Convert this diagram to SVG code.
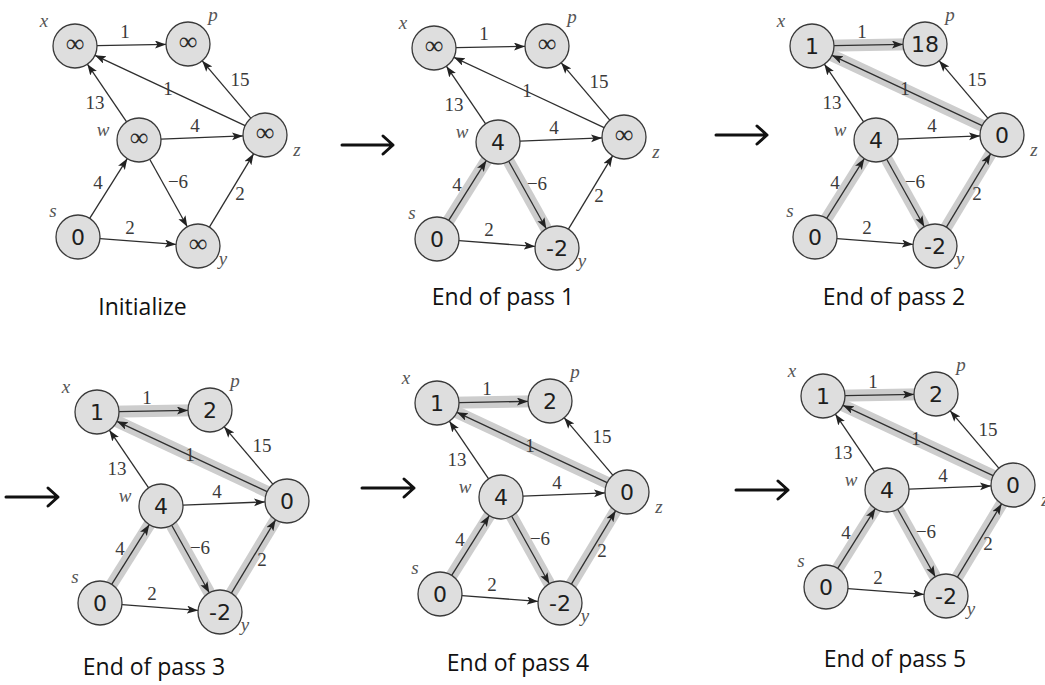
<svg xmlns="http://www.w3.org/2000/svg" xmlns:xlink="http://www.w3.org/1999/xlink" width="1045" height="685" viewBox="0 0 1045 685">
  <style>
    .node circle { fill: #dedede; stroke: #3a3a3a; stroke-width: 1.3; }
    .val { font-family: "DejaVu Sans", "Liberation Sans", sans-serif; font-size: 22px; fill: #1e1e1e; text-anchor: middle; }
    .inf { font-family: "Liberation Serif", "DejaVu Serif", serif; font-size: 26px; fill: #2a2a2a; text-anchor: middle; }
    .lbl { font-family: "Liberation Serif", "DejaVu Serif", serif; font-style: italic; font-size: 19px; fill: #555; text-anchor: middle; }
    .edge { stroke: #2e2e2e; stroke-width: 1.3; fill: none; marker-end: url(#head); }
    .w { font-family: "Liberation Serif", "DejaVu Serif", serif; font-size: 19px; fill: #3a3a3a; text-anchor: middle; }
    .band { stroke: #cdcdcd; stroke-width: 12; fill: none; }
    .cap { font-family: "Open Sans", "Liberation Sans", sans-serif; font-size: 23px; fill: #111; text-anchor: middle; }
    .step { stroke: #111; stroke-width: 3; fill: none; stroke-linecap: round; stroke-linejoin: round; }
  </style>
  <defs>
    <marker id="head" markerUnits="userSpaceOnUse" markerWidth="12" markerHeight="9" refX="11" refY="4" orient="auto">
      <path d="M0,0 L11,4 L0,8 L2.5,4 z" fill="#222"/>
    </marker>
    <!-- weighted edges shared by every pass -->
    <g id="edge-set">
      <line class="edge" x1="97" y1="45.6" x2="166" y2="44.4"/>
      <line class="edge" x1="245.1" y1="125.7" x2="94.9" y2="55.3"/>
      <line class="edge" x1="250.8" y1="118.2" x2="202.2" y2="60.8"/>
      <line class="edge" x1="126.6" y1="121.8" x2="87.4" y2="64.2"/>
      <line class="edge" x1="161" y1="139.1" x2="243" y2="135.9"/>
      <line class="edge" x1="149.7" y1="159.2" x2="187.3" y2="226.8"/>
      <line class="edge" x1="89.7" y1="218.4" x2="127.3" y2="158.6"/>
      <line class="edge" x1="100" y1="238.6" x2="176" y2="244.4"/>
      <line class="edge" x1="209.4" y1="227.2" x2="253.6" y2="153.8"/>
      <text class="w" x="125" y="38">1</text>
      <text class="w" x="240" y="86">15</text>
      <text class="w" x="168" y="95">1</text>
      <text class="w" x="95" y="109">13</text>
      <text class="w" x="195" y="132">4</text>
      <text class="w" x="178" y="188">−6</text>
      <text class="w" x="240" y="200">2</text>
      <text class="w" x="98" y="189">4</text>
      <text class="w" x="130" y="234">2</text>
    </g>
  </defs>
  <rect width="1045" height="685" fill="#fff"/>

  <!-- Initialize -->
  <g id="pass0" transform="translate(0,0)">
    <g id="pass0-edges"><use xlink:href="#edge-set"/></g>
    <g id="pass0-x" class="node"><circle cx="75" cy="46" r="22"/><text class="inf" x="75" y="52">∞</text><text class="lbl" x="44" y="27">x</text></g>
    <g id="pass0-p" class="node"><circle cx="188" cy="44" r="22"/><text class="inf" x="188" y="50">∞</text><text class="lbl" x="213" y="21">p</text></g>
    <g id="pass0-w" class="node"><circle cx="139" cy="140" r="22"/><text class="inf" x="139" y="146">∞</text><text class="lbl" x="103" y="136">w</text></g>
    <g id="pass0-z" class="node"><circle cx="265" cy="135" r="22"/><text class="inf" x="265" y="141">∞</text><text class="lbl" x="297" y="156">z</text></g>
    <g id="pass0-s" class="node"><circle cx="78" cy="237" r="22"/><text class="val" x="78" y="245">0</text><text class="lbl" x="53" y="217">s</text></g>
    <g id="pass0-y" class="node"><circle cx="198" cy="246" r="22"/><text class="inf" x="198" y="252">∞</text><text class="lbl" x="223" y="265">y</text></g>
  </g>

  <!-- End of pass 1 -->
  <g id="pass1" transform="translate(359,2)">
    <g id="pass1-edges">
      <line class="band" x1="78" y1="237" x2="139" y2="140"/>
      <line class="band" x1="139" y1="140" x2="198" y2="246"/>
      <use xlink:href="#edge-set"/>
    </g>
    <g id="pass1-x" class="node"><circle cx="75" cy="46" r="22"/><text class="inf" x="75" y="52">∞</text><text class="lbl" x="44" y="27">x</text></g>
    <g id="pass1-p" class="node"><circle cx="188" cy="44" r="22"/><text class="inf" x="188" y="50">∞</text><text class="lbl" x="213" y="21">p</text></g>
    <g id="pass1-w" class="node"><circle cx="139" cy="140" r="22"/><text class="val" x="139" y="148">4</text><text class="lbl" x="103" y="136">w</text></g>
    <g id="pass1-z" class="node"><circle cx="265" cy="135" r="22"/><text class="inf" x="265" y="141">∞</text><text class="lbl" x="297" y="156">z</text></g>
    <g id="pass1-s" class="node"><circle cx="78" cy="237" r="22"/><text class="val" x="78" y="245">0</text><text class="lbl" x="53" y="217">s</text></g>
    <g id="pass1-y" class="node"><circle cx="198" cy="246" r="22"/><text class="val" x="198" y="254">-2</text><text class="lbl" x="223" y="265">y</text></g>
  </g>

  <!-- End of pass 2 -->
  <g id="pass2" transform="translate(737,0)">
    <g id="pass2-edges">
      <line class="band" x1="75" y1="46" x2="188" y2="44"/>
      <line class="band" x1="265" y1="135" x2="75" y2="46"/>
      <line class="band" x1="78" y1="237" x2="139" y2="140"/>
      <line class="band" x1="139" y1="140" x2="198" y2="246"/>
      <line class="band" x1="198" y1="246" x2="265" y2="135"/>
      <use xlink:href="#edge-set"/>
    </g>
    <g id="pass2-x" class="node"><circle cx="75" cy="46" r="22"/><text class="val" x="75" y="54">1</text><text class="lbl" x="44" y="27">x</text></g>
    <g id="pass2-p" class="node"><circle cx="188" cy="44" r="22"/><text class="val" x="188" y="52">18</text><text class="lbl" x="213" y="21">p</text></g>
    <g id="pass2-w" class="node"><circle cx="139" cy="140" r="22"/><text class="val" x="139" y="148">4</text><text class="lbl" x="103" y="136">w</text></g>
    <g id="pass2-z" class="node"><circle cx="265" cy="135" r="22"/><text class="val" x="265" y="143">0</text><text class="lbl" x="297" y="156">z</text></g>
    <g id="pass2-s" class="node"><circle cx="78" cy="237" r="22"/><text class="val" x="78" y="245">0</text><text class="lbl" x="53" y="217">s</text></g>
    <g id="pass2-y" class="node"><circle cx="198" cy="246" r="22"/><text class="val" x="198" y="254">-2</text><text class="lbl" x="223" y="265">y</text></g>
  </g>

  <!-- End of pass 3 -->
  <g id="pass3" transform="translate(22,366)">
    <g id="pass3-edges">
      <line class="band" x1="75" y1="46" x2="188" y2="44"/>
      <line class="band" x1="265" y1="135" x2="75" y2="46"/>
      <line class="band" x1="78" y1="237" x2="139" y2="140"/>
      <line class="band" x1="139" y1="140" x2="198" y2="246"/>
      <line class="band" x1="198" y1="246" x2="265" y2="135"/>
      <use xlink:href="#edge-set"/>
    </g>
    <g id="pass3-x" class="node"><circle cx="75" cy="46" r="22"/><text class="val" x="75" y="54">1</text><text class="lbl" x="44" y="27">x</text></g>
    <g id="pass3-p" class="node"><circle cx="188" cy="44" r="22"/><text class="val" x="188" y="52">2</text><text class="lbl" x="213" y="21">p</text></g>
    <g id="pass3-w" class="node"><circle cx="139" cy="140" r="22"/><text class="val" x="139" y="148">4</text><text class="lbl" x="103" y="136">w</text></g>
    <g id="pass3-z" class="node"><circle cx="265" cy="135" r="22"/><text class="val" x="265" y="143">0</text></g>
    <g id="pass3-s" class="node"><circle cx="78" cy="237" r="22"/><text class="val" x="78" y="245">0</text><text class="lbl" x="53" y="217">s</text></g>
    <g id="pass3-y" class="node"><circle cx="198" cy="246" r="22"/><text class="val" x="198" y="254">-2</text><text class="lbl" x="223" y="265">y</text></g>
  </g>

  <!-- End of pass 4 -->
  <g id="pass4" transform="translate(362,357)">
    <g id="pass4-edges">
      <line class="band" x1="75" y1="46" x2="188" y2="44"/>
      <line class="band" x1="265" y1="135" x2="75" y2="46"/>
      <line class="band" x1="78" y1="237" x2="139" y2="140"/>
      <line class="band" x1="139" y1="140" x2="198" y2="246"/>
      <line class="band" x1="198" y1="246" x2="265" y2="135"/>
      <use xlink:href="#edge-set"/>
    </g>
    <g id="pass4-x" class="node"><circle cx="75" cy="46" r="22"/><text class="val" x="75" y="54">1</text><text class="lbl" x="44" y="27">x</text></g>
    <g id="pass4-p" class="node"><circle cx="188" cy="44" r="22"/><text class="val" x="188" y="52">2</text><text class="lbl" x="213" y="21">p</text></g>
    <g id="pass4-w" class="node"><circle cx="139" cy="140" r="22"/><text class="val" x="139" y="148">4</text><text class="lbl" x="103" y="136">w</text></g>
    <g id="pass4-z" class="node"><circle cx="265" cy="135" r="22"/><text class="val" x="265" y="143">0</text><text class="lbl" x="297" y="156">z</text></g>
    <g id="pass4-s" class="node"><circle cx="78" cy="237" r="22"/><text class="val" x="78" y="245">0</text><text class="lbl" x="53" y="217">s</text></g>
    <g id="pass4-y" class="node"><circle cx="198" cy="246" r="22"/><text class="val" x="198" y="254">-2</text><text class="lbl" x="223" y="265">y</text></g>
  </g>

  <!-- End of pass 5 (z label runs past the right edge) -->
  <g id="pass5" transform="translate(748,350)">
    <g id="pass5-edges">
      <line class="band" x1="75" y1="46" x2="188" y2="44"/>
      <line class="band" x1="265" y1="135" x2="75" y2="46"/>
      <line class="band" x1="78" y1="237" x2="139" y2="140"/>
      <line class="band" x1="139" y1="140" x2="198" y2="246"/>
      <line class="band" x1="198" y1="246" x2="265" y2="135"/>
      <use xlink:href="#edge-set"/>
    </g>
    <g id="pass5-x" class="node"><circle cx="75" cy="46" r="22"/><text class="val" x="75" y="54">1</text><text class="lbl" x="44" y="27">x</text></g>
    <g id="pass5-p" class="node"><circle cx="188" cy="44" r="22"/><text class="val" x="188" y="52">2</text><text class="lbl" x="213" y="21">p</text></g>
    <g id="pass5-w" class="node"><circle cx="139" cy="140" r="22"/><text class="val" x="139" y="148">4</text><text class="lbl" x="103" y="136">w</text></g>
    <g id="pass5-z" class="node"><circle cx="265" cy="135" r="22"/><text class="val" x="265" y="143">0</text><text class="lbl" x="297" y="156">z</text></g>
    <g id="pass5-s" class="node"><circle cx="78" cy="237" r="22"/><text class="val" x="78" y="245">0</text><text class="lbl" x="53" y="217">s</text></g>
    <g id="pass5-y" class="node"><circle cx="198" cy="246" r="22"/><text class="val" x="198" y="254">-2</text><text class="lbl" x="223" y="265">y</text></g>
  </g>

  <!-- step arrows between passes -->
  <g id="steps">
    <path class="step" d="M342,145 H393 M383,136 L393,145 L383,154"/>
    <path class="step" d="M716,135 H767 M757,126 L767,135 L757,144"/>
    <path class="step" d="M6,497 H58 M48,488 L58,497 L48,506"/>
    <path class="step" d="M362,488 H414 M404,479 L414,488 L404,497"/>
    <path class="step" d="M736,490 H788 M778,481 L788,490 L778,499"/>
  </g>

  <!-- captions -->
  <g id="captions">
    <text class="cap" x="142.5" y="315">Initialize</text>
    <text class="cap" x="503" y="305">End of pass 1</text>
    <text class="cap" x="894" y="305">End of pass 2</text>
    <text class="cap" x="154" y="675">End of pass 3</text>
    <text class="cap" x="518" y="671">End of pass 4</text>
    <text class="cap" x="895" y="667">End of pass 5</text>
  </g>
</svg>
